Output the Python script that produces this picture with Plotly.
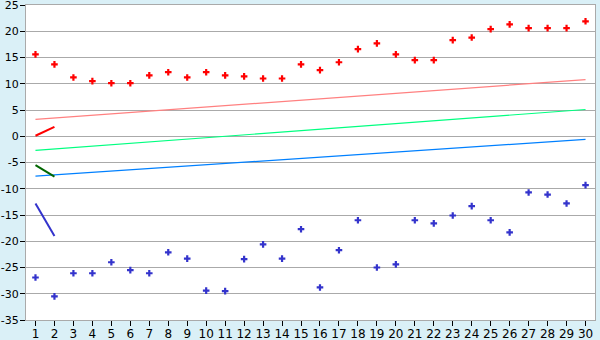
import plotly.graph_objects as go

days = list(range(1, 31))
red_vals = [15.6, 13.7, 11.2, 10.5, 10.1, 10.1, 11.6, 12.2, 11.2, 12.2,
            11.6, 11.4, 11.0, 11.0, 13.7, 12.6, 14.1, 16.6, 17.7, 15.6,
            14.5, 14.5, 18.3, 18.8, 20.4, 21.3, 20.6, 20.6, 20.6, 21.9]
blue_vals = [-26.9, -30.5, -26.1, -26.1, -24.0, -25.5, -26.1, -22.1, -23.3, -29.4,
             -29.5, -23.4, -20.6, -23.3, -17.7, -28.8, -21.7, -16.0, -25.0, -24.4,
             -16.0, -16.6, -15.1, -13.3, -16.0, -18.3, -10.7, -11.1, -12.8, -9.3]

trend_x = [1, 30]
pink_trend = [3.2, 10.8]
green_trend = [-2.7, 5.1]
blue_trend = [-7.6, -0.6]

seg_x = [1, 2]
red_seg = [0.1, 1.8]
darkgreen_seg = [-5.5, -7.7]
darkblue_seg = [-12.8, -19.0]

y_ticks = list(range(-35, 26, 5))
y_tick_labels = [str(v) for v in y_ticks]
x_tick_labels = [str(d) for d in days]

fig = go.Figure()
fig.add_trace(go.Scatter(x=trend_x, y=pink_trend, mode="lines",
                         line=dict(color="#FF8080", width=1.2)))
fig.add_trace(go.Scatter(x=trend_x, y=green_trend, mode="lines",
                         line=dict(color="#00FF80", width=1.2)))
fig.add_trace(go.Scatter(x=trend_x, y=blue_trend, mode="lines",
                         line=dict(color="#0080FF", width=1.2)))
fig.add_trace(go.Scatter(x=seg_x, y=red_seg, mode="lines",
                         line=dict(color="#FF0000", width=2)))
fig.add_trace(go.Scatter(x=seg_x, y=darkgreen_seg, mode="lines",
                         line=dict(color="#006600", width=2)))
fig.add_trace(go.Scatter(x=seg_x, y=darkblue_seg, mode="lines",
                         line=dict(color="#3333CC", width=2)))
fig.add_trace(go.Scatter(x=days, y=red_vals, mode="markers",
                         marker=dict(color="#FF0000", symbol="cross", size=5.5)))
fig.add_trace(go.Scatter(x=days, y=blue_vals, mode="markers",
                         marker=dict(color="#3333CC", symbol="cross", size=5.5)))

fig.update_layout(
    width=600, height=340,
    margin=dict(l=26, r=5, t=5, b=20),
    paper_bgcolor="#DAF0F7",
    plot_bgcolor="#FFFFFF",
    showlegend=False,
    font=dict(family="DejaVu Sans", size=12, color="#000000"),
    xaxis=dict(range=[0.5, 30.5], tickvals=days, ticktext=x_tick_labels,
               ticks="outside", ticklen=5,
               tickcolor="#000000", showgrid=False, zeroline=False,
               showline=True, linecolor="#AAAAAA", mirror=True,
               fixedrange=True, automargin=False,
               ticklabeloverflow="allow", ticklabelstandoff=-2),
    yaxis=dict(range=[-35, 25], tickvals=y_ticks, ticktext=y_tick_labels,
               ticks="outside", ticklen=5, tickfont=dict(size=11),
               tickcolor="#000000", showgrid=True, gridcolor="#AAAAAA",
               gridwidth=1, zeroline=False, showline=True,
               linecolor="#AAAAAA", mirror=True, fixedrange=True,
               automargin=False, ticklabeloverflow="allow",
               ticklabelstandoff=-1),
)

fig.write_html("out.html")
